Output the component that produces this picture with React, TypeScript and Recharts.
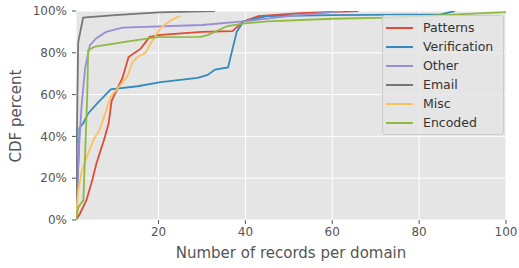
import { LineChart, Line, XAxis, YAxis, CartesianGrid, Label } from 'recharts';

const seriesNames = ['Patterns', 'Verification', 'Other', 'Email', 'Misc', 'Encoded'];
const seriesColors = ['#E24A33', '#348ABD', '#988ED5', '#777777', '#FBC15E', '#8EBA42'];

const xTicks = [20, 40, 60, 80, 100];
const yTicks = [0, 20, 40, 60, 80, 100];

// [records per domain, cdf %]
const patterns = [
  [1, 0], [1.9, 3], [3.4, 9.5], [4.6, 18], [5.7, 27], [7.4, 38], [8.5, 46], [9.2, 57],
  [11.7, 68], [13.1, 78], [15.9, 82], [17.9, 87.5], [19.8, 88.5], [30, 90], [37, 90.4],
  [39.5, 95], [43, 97.6], [52.6, 99], [66, 100],
];
const verification = [
  [1, 0], [1.6, 30], [1.8, 44], [2.7, 46.4], [3.8, 51], [6.2, 56.5], [7.4, 59], [9, 62.5],
  [10.8, 63], [15.2, 64], [20.5, 66], [29, 68], [31.3, 69.4], [33, 72], [36, 73], [38, 90],
  [39.5, 95], [45, 97.6], [60, 98], [85, 98.4], [88.2, 100],
];
const other = [
  [1, 0], [1.7, 35], [2.3, 55], [3.1, 72.7], [4.2, 83.7], [5.7, 87], [7.9, 90], [11.7, 92],
  [30, 93.3], [39.5, 95], [50, 97.5], [62.5, 100],
];
const email = [
  [1, 0], [1.2, 40], [1.5, 85], [2.65, 96.8], [10, 98], [20, 99.3], [33, 100],
];
const misc = [
  [1, 0], [1.2, 7], [1.5, 14], [2.3, 23], [3.8, 32], [5.4, 40], [6.2, 42], [7.4, 49], [8.5, 56],
  [9, 59], [10.8, 63.5], [12.9, 69], [14, 75.6], [15.2, 78], [17, 80], [18.2, 84.6],
  [20.5, 92], [23.2, 96], [25, 97.6],
];
const encoded = [
  [1, 0], [1.5, 6], [2.7, 9.5], [3.6, 60], [3.8, 81.3], [5.4, 83], [13.4, 85.6], [19.8, 87.5],
  [29.7, 87.6], [31.3, 88.5], [35.9, 92.8], [39.5, 94], [45, 95], [60, 96.3], [72.8, 96.8],
  [100, 99.5],
];

const seriesData = [patterns, verification, other, email, misc, encoded].map((pts) =>
  pts.map(([x, y]) => ({ x, y }))
);

const font = 'DejaVu Sans, sans-serif';

function LegendBox() {
  return (
    <div
      style={{
        position: 'absolute',
        left: 382,
        top: 15,
        width: 117,
        background: 'rgba(229,229,229,0.8)',
        border: '1px solid #cccccc',
        borderRadius: 3,
        padding: '2px 0 2px 3px',
        fontFamily: font,
        fontSize: 12.5,
        color: '#333',
      }}
    >
      {seriesNames.map((name, i) => (
        <div key={name} style={{ display: 'flex', alignItems: 'center', height: 19 }}>
          <div style={{ width: 27, height: 2, background: seriesColors[i], marginRight: 10 }} />
          <span>{name}</span>
        </div>
      ))}
    </div>
  );
}

export default function App() {
  return (
    <div style={{ position: 'absolute', left: 0, top: 0, width: 519, height: 268 }}>
      <LineChart width={519} height={268} margin={{ top: 11, right: 13, left: 0, bottom: 0 }}>
        <CartesianGrid fill="#E5E5E5" stroke="#ffffff" strokeWidth={1} />
        <XAxis
          type="number"
          dataKey="x"
          domain={[1, 100]}
          ticks={xTicks}
          allowDataOverflow
          height={48}
          axisLine={false}
          tickSize={4}
          tickMargin={3}
          tickLine={{ stroke: '#555555' }}
          tick={{ fill: '#555555', fontSize: 12, fontFamily: font }}
        >
          <Label
            content={() => (
              <text x={291} y={253} textAnchor="middle" dominantBaseline="central" fill="#555555" fontSize={15} fontFamily={font}>
                Number of records per domain
              </text>
            )}
          />
        </XAxis>
        <YAxis
          type="number"
          dataKey="y"
          domain={[0, 100]}
          ticks={yTicks}
          allowDataOverflow
          width={76}
          axisLine={false}
          tickSize={4}
          tickMargin={5}
          tickLine={{ stroke: '#555555' }}
          tickFormatter={(v: number) => `${v}%`}
          tick={{ fill: '#555555', fontSize: 12, fontFamily: font }}
        >
          <Label
            content={() => (
              <text x={16} y={116} transform="rotate(-90 16 116)" textAnchor="middle" dominantBaseline="central" fill="#555555" fontSize={15} fontFamily={font}>
                CDF percent
              </text>
            )}
          />
        </YAxis>
        {seriesNames.map((name, i) => (
          <Line
            key={name}
            name={name}
            data={seriesData[i]}
            dataKey="y"
            type="linear"
            stroke={seriesColors[i]}
            strokeWidth={1.8}
            dot={false}
            activeDot={false}
            isAnimationActive={false}
          />
        ))}
      </LineChart>
      <LegendBox />
    </div>
  );
}
